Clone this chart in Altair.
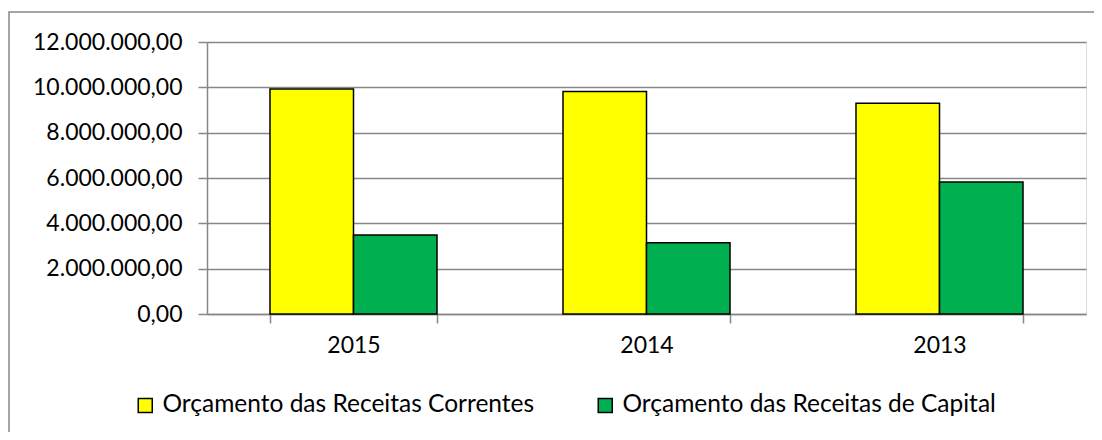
import altair as alt
import pandas as pd

years = ["2015", "2014", "2013"]
series_names = ["Orçamento das Receitas Correntes", "Orçamento das Receitas de Capital"]
correntes = [9930000, 9820000, 9300000]
capital = [3490000, 3140000, 5820000]
y_ticks = [0, 2000000, 4000000, 6000000, 8000000, 10000000, 12000000]
colors = ["#FFFF00", "#00B050"]

rows = []
for i, yr in enumerate(years):
    rows.append({"ano": yr, "serie": series_names[0], "valor": correntes[i]})
    rows.append({"ano": yr, "serie": series_names[1], "valor": capital[i]})
df = pd.DataFrame(rows)

FONT = "Lato"
FS = 23
GRAY = "#878787"

bars = alt.Chart(df).mark_bar(stroke="black", strokeWidth=1.5).encode(
    x=alt.X(
        "ano:N",
        sort=years,
        scale=alt.Scale(paddingInner=0.43, paddingOuter=0.215),
        axis=alt.Axis(
            title=None, labelAngle=0, tickBand="extent", grid=False,
            domainColor=GRAY, tickColor=GRAY, tickSize=9, domainWidth=1.5, tickWidth=1.5,
            labelFont=FONT, labelFontSize=FS, labelColor="black", labelPadding=11,
        ),
    ),
    xOffset=alt.XOffset("serie:N", sort=series_names,
                        scale=alt.Scale(paddingInner=0, paddingOuter=0)),
    y=alt.Y(
        "valor:Q",
        scale=alt.Scale(domain=[0, 12000000], nice=False),
        axis=alt.Axis(
            title=None, values=y_ticks, format=",.2f",
            domainColor=GRAY, tickColor=GRAY, gridColor=GRAY, tickSize=9,
            domainWidth=1.5, tickWidth=1.5, gridWidth=1.5,
            labelFont=FONT, labelFontSize=FS, labelColor="black", labelPadding=16,
        ),
    ),
    color=alt.Color(
        "serie:N",
        scale=alt.Scale(domain=series_names, range=colors),
        legend=alt.Legend(
            title=None, orient="none", direction="horizontal",
            legendX=-74, legendY=351,
            symbolType="square", symbolSize=196, symbolStrokeColor="black",
            symbolStrokeWidth=1.5, symbolOpacity=1,
            labelFont=FONT, labelFontSize=24.5, labelColor="black", labelLimit=0,
            labelOffset=5, columnPadding=58,
        ),
    ),
)

frame = alt.Chart(pd.DataFrame({"f": [0]})).mark_rect(
    filled=False, stroke=GRAY, strokeWidth=1.5
).encode(
    x=alt.value(-198), x2=alt.value(1000),
    y=alt.value(-30), y2=alt.value(500),
)

chart = alt.layer(bars, frame).properties(
    width=879, height=272,
    autosize="none",
    padding={"left": 199, "top": 34, "right": 8, "bottom": 118},
    background="white",
).configure_view(strokeWidth=0).configure(
    locale={"number": {"decimal": ",", "thousands": ".", "grouping": [3], "currency": ["", ""]}}
)

chart.save("out.html", embed_options={"renderer": "svg", "actions": False})
